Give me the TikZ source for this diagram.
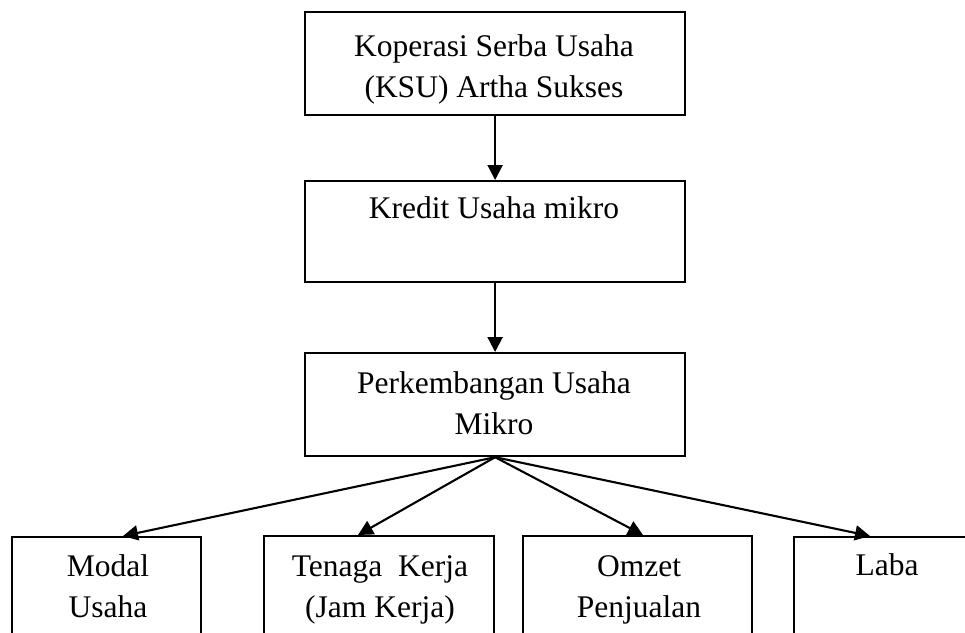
\documentclass[tikz,border=0pt]{standalone}
\usepackage{fontspec}
\setmainfont{Liberation Serif}
\usetikzlibrary{arrows.meta}
\begin{document}
\begin{tikzpicture}[x=1pt,y=-1pt,
  box/.style={draw=black, line width=2.2pt, anchor=north west, inner sep=0pt},
  txt/.style={align=center, font=\fontsize{31.5}{41}\selectfont, inner sep=0pt, anchor=base},
  arr/.style={line width=2.1pt, -{Triangle[length=15pt,width=15pt]}}]
\clip (0,0) rectangle (965,632);
\fill[white] (0,0) rectangle (965,632);
% top boxes
\node[box, minimum width=380pt, minimum height=103pt] (ksu) at (304,11) {};
\node[txt] (ksut) at (494,97) {Koperasi Serba Usaha\\(KSU) Artha Sukses};
\node[box, minimum width=380pt, minimum height=101pt] (kum) at (304,180) {};
\node[txt] (kumt) at (494,218) {Kredit Usaha mikro};
\node[box, minimum width=380pt, minimum height=103pt] (pum) at (304,352) {};
\node[txt] (pumt) at (494,434) {Perkembangan Usaha\\Mikro};
% bottom boxes
\node[box, minimum width=189pt, minimum height=130pt] (modal) at (11,536) {};
\node[txt] (modalt) at (108,617) {Modal\\Usaha};
\node[box, minimum width=230pt, minimum height=130pt] (tenaga) at (263,535) {};
\node[txt] (tenagat) at (380,617) {Tenaga\ \ Kerja\\(Jam Kerja)};
\node[box, minimum width=229pt, minimum height=130pt] (omzet) at (522,535) {};
\node[txt] (omzett) at (639,617) {Omzet\\Penjualan};
\node[box, minimum width=188pt, minimum height=130pt] (laba) at (793,536) {};
\node[txt] (labat) at (887,575) {Laba};
% arrow endpoints on the bottom boxes
\coordinate (cm) at (123,536);
\coordinate (ct) at (358,535);
\coordinate (co) at (643,535);
\coordinate (cl) at (870,536);
% connectors
\draw[arr] (ksu.south) -- (kum.north);
\draw[arr] (kum.south) -- (pum.north);
\draw[arr] (pum.south) -- (cm);
\draw[arr] (pum.south) -- (ct);
\draw[arr] (pum.south) -- (co);
\draw[arr] (pum.south) -- (cl);
\end{tikzpicture}
\end{document}
